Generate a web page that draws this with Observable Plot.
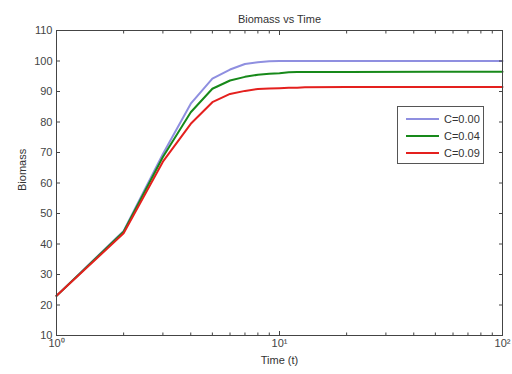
<!DOCTYPE html>
<html><head><meta charset="utf-8">
<script src="https://cdn.jsdelivr.net/npm/d3@7"></script>
<script src="https://cdn.jsdelivr.net/npm/@observablehq/plot@0.6"></script>
<style>
body{margin:0;background:#fff;}
#wrap{position:relative;width:512px;height:374px;font-family:"Liberation Sans",Arial,sans-serif;}
#legend{position:absolute;left:397px;top:106px;width:87px;height:58px;border:1px solid #555;background:#fff;box-sizing:border-box;font-size:11px;color:#333;}
#legend .row{position:absolute;left:0;height:14px;display:flex;align-items:center;}
#legend .sw{width:33px;height:2px;margin-left:8px;margin-right:5px;}
</style></head><body><div id="wrap"></div>
<script>
const times = [1, 2, 3, 4, 5, 6, 7, 8, 9, 10, 11, 12, 13, 20, 50, 100];
const c000 = [23, 44.3, 69.5, 86, 94.2, 97.2, 99, 99.6, 99.9, 100, 100, 100, 100, 100, 100, 100];
const c004 = [23, 44, 68.5, 83.2, 90.9, 93.6, 94.8, 95.5, 95.8, 96, 96.3, 96.4, 96.4, 96.4, 96.5, 96.5];
const c009 = [23, 43.5, 67, 79.4, 86.5, 89.2, 90.2, 90.8, 91, 91.1, 91.2, 91.2, 91.4, 91.5, 91.5, 91.5];
const seriesNames = ["C=0.00", "C=0.04", "C=0.09"];
const seriesColors = ["#8f8fe0", "#17891a", "#e4201e"];
const yTicks = [10, 20, 30, 40, 50, 60, 70, 80, 90, 100, 110];
const xMajor = [1, 10, 100];
const xMajorLabels = ["10\u2070", "10\u00b9", "10\u00b2"];
const xMinor = [2,3,4,5,6,7,8,9,20,30,40,50,60,70,80,90];

const rows = [];
[c000, c004, c009].forEach((vals, i) => vals.forEach((v, j) => rows.push({t: times[j], b: v, s: seriesNames[i]})));

const axisColor = "#444";
const chart = Plot.plot({
  width: 512, height: 374,
  marginLeft: 56, marginRight: 10, marginTop: 30, marginBottom: 39,
  style: {fontFamily: '"Liberation Sans", Arial, sans-serif', fontSize: "11px", background: "#fff", color: "#333"},
  x: {type: "log", domain: [1, 100]},
  y: {domain: [10, 110]},
  color: {domain: seriesNames, range: seriesColors},
  marks: [
    Plot.line(rows, {x: "t", y: "b", z: "s", stroke: "s", strokeWidth: 2}),
    Plot.frame({stroke: axisColor}),
    Plot.axisY(yTicks, {anchor: "left", tickSize: -4, tickPadding: 8, label: null, color: axisColor, fontSize: 11}),
    Plot.axisY(yTicks, {anchor: "right", tickSize: -4, tickFormat: () => "", label: null, color: axisColor}),
    Plot.axisX(xMajor, {anchor: "bottom", tickSize: -4, tickPadding: 8, label: null, color: axisColor, fontSize: 11,
      tickFormat: (d) => xMajorLabels[xMajor.indexOf(d)]}),
    Plot.axisX(xMinor, {anchor: "bottom", tickSize: -2.5, tickFormat: () => "", label: null, color: axisColor}),
    Plot.axisX(xMajor, {anchor: "top", tickSize: -4, tickFormat: () => "", label: null, color: axisColor}),
    Plot.axisX(xMinor, {anchor: "top", tickSize: -2.5, tickFormat: () => "", label: null, color: axisColor}),
    Plot.text(["Biomass vs Time"], {frameAnchor: "top", dy: -15, fontSize: 11, fill: "#333"}),
    Plot.text(["Time (t)"], {frameAnchor: "bottom", dy: 28, fontSize: 11, fill: "#333"}),
    Plot.text(["Biomass"], {frameAnchor: "left", rotate: -90, dx: -34, dy: 8, fontSize: 11, fill: "#333"})
  ]
});
const wrap = document.getElementById("wrap");
wrap.appendChild(chart);
const legend = document.createElement("div");
legend.id = "legend";
seriesNames.forEach((n, i) => {
  const r = document.createElement("div");
  r.className = "row";
  r.style.top = (5 + i * 17) + "px";
  const sw = document.createElement("div");
  sw.className = "sw";
  sw.style.background = seriesColors[i];
  const tx = document.createElement("span");
  tx.textContent = n;
  r.appendChild(sw); r.appendChild(tx);
  legend.appendChild(r);
});
wrap.appendChild(legend);
</script></body></html>
